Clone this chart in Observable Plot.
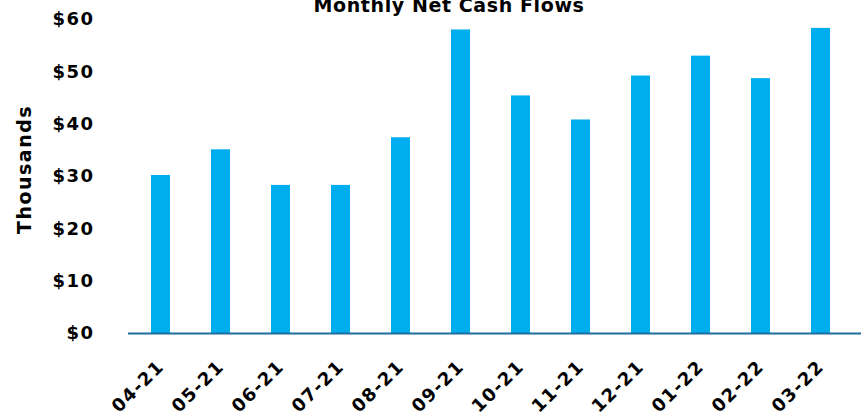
<!DOCTYPE html>
<html>
<head>
<meta charset="utf-8">
<script src="https://cdn.jsdelivr.net/npm/d3@7"></script>
<script src="https://cdn.jsdelivr.net/npm/@observablehq/plot@0.6"></script>
<style>
  html, body { margin: 0; padding: 0; background: #fff; overflow: hidden; }
  #wrap { position: relative; width: 861px; height: 417px; }
  #title { position: absolute; left: 0; top: -4px; width: 898px; text-align: center;
    font-family: "DejaVu Sans", sans-serif; font-weight: bold; font-size: 19px; line-height: 19px;
    letter-spacing: 0.6px; color: #000; }
  svg { font-family: "DejaVu Sans", sans-serif; font-weight: bold; }
  svg text { letter-spacing: 1.5px; }
</style>
</head>
<body>
<div id="wrap"><div id="title">Monthly Net Cash Flows</div></div>
<script>
const months = ["04-21","05-21","06-21","07-21","08-21","09-21","10-21","11-21","12-21","01-22","02-22","03-22"];
const values = [30.2, 35.1, 28.3, 28.3, 37.4, 58.0, 45.4, 40.8, 49.2, 53.0, 48.7, 58.3];
const yTicks = [0, 10, 20, 30, 40, 50, 60];

const data = months.map((m, i) => ({month: m, value: values[i]}));

const chart = Plot.plot({
  width: 861,
  height: 417,
  marginTop: 19,
  marginBottom: 84,
  marginLeft: 128,
  marginRight: 0,
  style: {fontFamily: "DejaVu Sans, sans-serif", fontWeight: "bold", background: "transparent", overflow: "visible"},
  x: {domain: months, paddingInner: 0.685, paddingOuter: 0.41, align: 0.417},
  y: {domain: [0, 60]},
  marks: [
    Plot.barY(data, {x: "month", y: "value", fill: "#00AEEF"}),
    Plot.ruleY([0], {stroke: "#1f6c9e", strokeWidth: 2}),
    Plot.axisY({ticks: yTicks, tickSize: 0, tickPadding: 34, tickFormat: d => "$" + d,
      fontSize: 18, fill: "#000", label: null}),
    Plot.axisX({tickSize: 0, tickPadding: 30, tickRotate: -45, fontSize: 18, fill: "#000", label: null}),
    Plot.text(["Thousands"], {frameAnchor: "left", textAnchor: "middle", dx: -104, dy: -7, rotate: -90,
      fontSize: 19, fontWeight: "bold", fill: "#000"})
  ]
});
document.getElementById("wrap").prepend(chart);
</script>
</body>
</html>
